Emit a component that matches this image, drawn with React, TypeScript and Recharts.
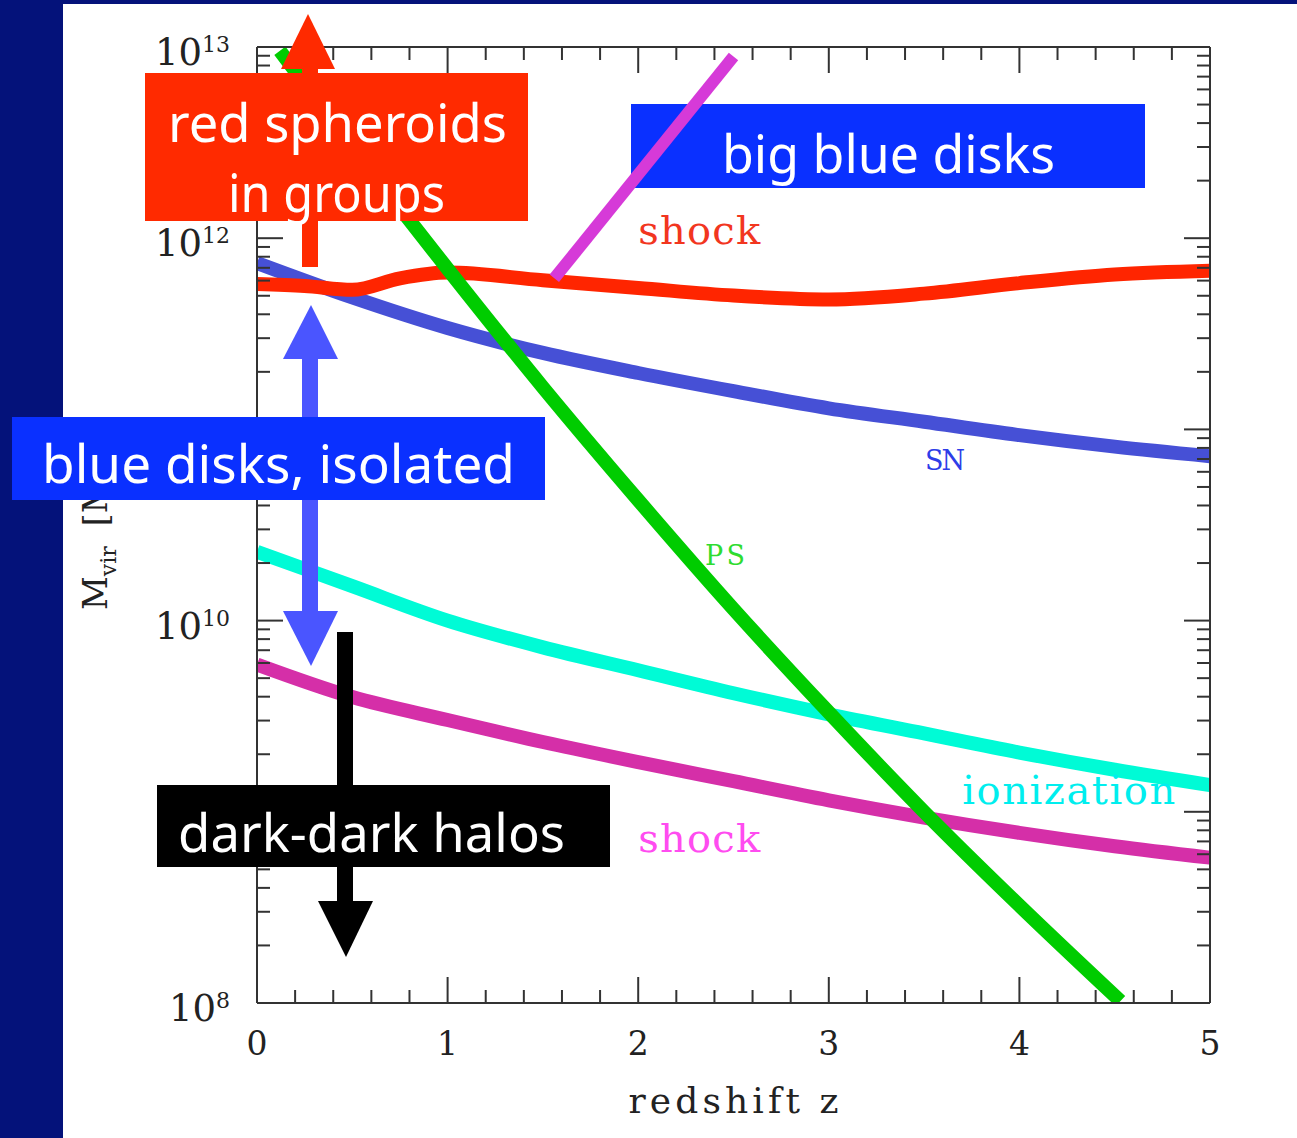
import React from 'react';
import { LineChart, Line, XAxis, YAxis, ReferenceDot } from 'recharts';

const W = 1297;
const H = 1138;

// axis ticks
const zTicks = [0, 1, 2, 3, 4, 5];
const decadeTicks = [8, 9, 10, 11, 12, 13];
// 10^9 and 10^11 sit behind the annotation boxes in the original, so only these carry labels
const decadeLabels = [8, 10, 12, 13];
const zMinor = [0.2, 0.4, 0.6, 0.8, 1.2, 1.4, 1.6, 1.8, 2.2, 2.4, 2.6, 2.8, 3.2, 3.4, 3.6, 3.8, 4.2, 4.4, 4.6, 4.8];
const logMinor = [8, 9, 10, 11, 12].flatMap((n) => [2, 3, 4, 5, 6, 7, 8, 9].map((k) => n + Math.log10(k)));

// curves: redshift z vs log10(Mvir)
const shockHotZ = [0, 0.25, 0.5, 0.75, 1, 1.5, 2, 2.5, 3, 3.5, 4, 4.5, 5];
const shockHotLogM = [11.76, 11.75, 11.73, 11.79, 11.82, 11.78, 11.74, 11.7, 11.68, 11.71, 11.765, 11.81, 11.83];

const gridZ = [0, 0.5, 1, 1.5, 2, 2.5, 3, 3.5, 4, 4.5, 5];
const snLogM = [11.87, 11.69, 11.53, 11.4, 11.295, 11.2, 11.11, 11.04, 10.97, 10.91, 10.86];
const ionLogM = [10.36, 10.18, 10.0, 9.86, 9.74, 9.62, 9.51, 9.41, 9.31, 9.22, 9.14];
const shockLowLogM = [9.77, 9.6, 9.48, 9.365, 9.26, 9.16, 9.06, 8.97, 8.89, 8.82, 8.76];

const psZ = [0.12, 0.5, 1, 1.5, 2, 2.5, 3, 3.5, 4, 4.53];
const psLogM = [12.98, 12.48, 11.84, 11.22, 10.63, 10.06, 9.52, 9.0, 8.51, 8.01];

const bigDiskZ = [1.56, 2.5];
const bigDiskLogM = [11.79, 12.95];

const rows = (xs: number[], ys: number[]) => xs.map((z, i) => ({ z, m: ys[i] }));

const plotLabels = [
  { text: 'shock', z: 2.0, m: 11.97, color: '#f2361f', size: 40, len: 122 },
  { text: 'SN', z: 3.505, m: 10.79, color: '#2d3de8', size: 27, len: 40 },
  { text: 'PS', z: 2.35, m: 10.29, color: '#2fdc2f', size: 27, len: 40 },
  { text: 'ionization', z: 3.7, m: 9.04, color: '#00eeee', size: 40, len: 213 },
  { text: 'shock', z: 2.0, m: 8.79, color: '#ff4cf0', size: 40, len: 122 },
];

const axisStyle = { stroke: '#333', strokeWidth: 2 };
const serif = "'DejaVu Serif', 'Liberation Serif', serif";
const hand = "'Noto Sans', 'Open Sans', sans-serif";

const XTick = (props: any) => {
  const { x, y, payload } = props;
  return (
    <text x={x} y={y + 50} textAnchor="middle" fill="#222" fontFamily={serif} fontSize={33}>
      {payload.value}
    </text>
  );
};

const YTick = (props: any) => {
  const { x, y, payload } = props;
  return (
    <text x={x - 25} y={y + 18} textAnchor="end" fill="#222" fontFamily={serif} fontSize={37}>
      10
      <tspan fontSize={22} dy={-13}>
        {payload.value}
      </tspan>
    </text>
  );
};

// inward tick mark: long on whole numbers (major), short otherwise
const TickMark = (props: any) => {
  const { x, y, payload, side } = props;
  const len = Number.isInteger(payload.value) ? 26 : 13;
  let x2 = x;
  let y2 = y;
  if (side === 'bottom') y2 = y - len;
  if (side === 'top') y2 = y + len;
  if (side === 'left') x2 = x + len;
  if (side === 'right') x2 = x - len;
  return <line x1={x} y1={y} x2={x2} y2={y2} stroke="#333" strokeWidth={2} />;
};

const tickAxisX = (side: 'top' | 'bottom', line: boolean) => (
  <XAxis
    key={side}
    xAxisId={side}
    orientation={side}
    type="number"
    dataKey="z"
    domain={[0, 5]}
    ticks={[...zTicks, ...zMinor]}
    interval={0}
    allowDataOverflow
    mirror
    height={30}
    axisLine={line ? axisStyle : false}
    tickLine={false}
    tickSize={0}
    tickMargin={0}
    tick={<TickMark side={side} />}
  />
);

const tickAxisY = (side: 'left' | 'right', line: boolean) => (
  <YAxis
    key={side}
    yAxisId={side}
    orientation={side}
    type="number"
    domain={[8, 13]}
    ticks={[...decadeTicks, ...logMinor]}
    interval={0}
    allowDataOverflow
    mirror
    width={30}
    axisLine={line ? axisStyle : false}
    tickLine={false}
    tickSize={0}
    tickMargin={0}
    tick={<TickMark side={side} />}
  />
);

export default function App() {
  return (
    <div style={{ position: 'absolute', left: 0, top: 0, width: W, height: H, background: '#04127a', overflow: 'hidden' }}>
      <div style={{ position: 'absolute', left: 63, top: 4, right: 0, bottom: 0, background: '#fff' }} />

      {/* this box sits under the curves */}
      <svg width={W} height={H} style={{ position: 'absolute', left: 0, top: 0 }}>
        <rect x={631} y={104} width={514} height={84} fill="#0a30ff" />
        <text x={722} y={173} fill="#fff" fontFamily={hand} fontSize={52} textLength={333} lengthAdjust="spacingAndGlyphs">
          big blue disks
        </text>
      </svg>

      <div style={{ position: 'absolute', left: 0, top: 0 }}>
        <LineChart width={W} height={H} margin={{ top: 47, right: 87, bottom: 0, left: 0 }}>
          <XAxis
            dataKey="z"
            type="number"
            domain={[0, 5]}
            ticks={zTicks}
            interval={0}
            allowDataOverflow
            height={135}
            axisLine={axisStyle}
            tickLine={false}
            tickSize={0}
            tick={<XTick />}
            label={{
              content: (p: any) => (
                <text
                  x={p.viewBox.x + p.viewBox.width / 2}
                  y={p.viewBox.y + 110}
                  textAnchor="middle"
                  fill="#222"
                  fontFamily={serif}
                  fontSize={36}
                  textLength={210}
                  lengthAdjust="spacing"
                >
                  redshift z
                </text>
              ),
            }}
          />
          {tickAxisX('bottom', false)}
          {tickAxisX('top', true)}

          <YAxis
            type="number"
            domain={[8, 13]}
            ticks={decadeLabels}
            interval={0}
            allowDataOverflow
            width={257}
            axisLine={axisStyle}
            tickLine={false}
            tickSize={0}
            tick={<YTick />}
          />
          {tickAxisY('left', false)}
          {tickAxisY('right', true)}

          <Line data={rows(gridZ, ionLogM)} dataKey="m" type="monotone" stroke="#00fbd6" strokeWidth={14} dot={false} isAnimationActive={false} />
          <Line data={rows(gridZ, shockLowLogM)} dataKey="m" type="monotone" stroke="#d52fa8" strokeWidth={14} dot={false} isAnimationActive={false} />
          <Line data={rows(gridZ, snLogM)} dataKey="m" type="monotone" stroke="#4650d6" strokeWidth={14} dot={false} isAnimationActive={false} />
          <Line data={rows(shockHotZ, shockHotLogM)} dataKey="m" type="monotone" stroke="#ff2500" strokeWidth={14} dot={false} isAnimationActive={false} />
          <Line data={rows(psZ, psLogM)} dataKey="m" type="monotone" stroke="#00cc00" strokeWidth={14} dot={false} isAnimationActive={false} />
          <Line data={rows(bigDiskZ, bigDiskLogM)} dataKey="m" type="linear" stroke="#d63ad8" strokeWidth={12} dot={false} isAnimationActive={false} />

          {plotLabels.map((l, i) => (
            <ReferenceDot
              key={i}
              x={l.z}
              y={l.m}
              r={0}
              shape={(p: any) => (
                <text
                  x={p.cx}
                  y={p.cy}
                  fill={l.color}
                  fontFamily={serif}
                  fontSize={l.size}
                  textLength={l.len}
                  lengthAdjust="spacing"
                >
                  {l.text}
                </text>
              )}
            />
          ))}
        </LineChart>
      </div>

      <svg width={W} height={H} style={{ position: 'absolute', left: 0, top: 0, pointerEvents: 'none' }}>
        {/* y axis title, mostly hidden behind the blue box */}
        <text x={107} y={610} transform="rotate(-90 107 610)" fill="#222" fontFamily={serif} fontSize={33}>
          M
          <tspan fontSize={22} dy={9}>
            vir
          </tspan>
          <tspan dy={-9} dx={20}>
            [M
          </tspan>
          <tspan fontSize={22} dy={9}>
            ⊙
          </tspan>
          <tspan dy={-9}>]</tspan>
        </text>

        {/* red arrow + box */}
        <rect x={302} y={60} width={16} height={207} fill="#ff2a00" />
        <polygon points="281,69 335,69 308,14" fill="#ff2a00" />
        <rect x={145} y={73} width={383} height={148} fill="#ff2a00" />
        <text x={168} y={142} fill="#fff" fontFamily={hand} fontSize={52} textLength={339} lengthAdjust="spacingAndGlyphs">
          red spheroids
        </text>
        <text x={228} y={212} fill="#fff" fontFamily={hand} fontSize={52} textLength={217} lengthAdjust="spacingAndGlyphs">
          in groups
        </text>

        {/* blue double arrow */}
        <rect x={302} y={355} width={16} height={260} fill="#4a55ff" />
        <polygon points="283,359 338,359 311,305" fill="#4a55ff" />
        <polygon points="283,611 338,611 311,666" fill="#4a55ff" />

        {/* blue disks, isolated */}
        <rect x={12} y={417} width={533} height={83} fill="#0a30ff" />
        <text x={42} y={483} fill="#fff" fontFamily={hand} fontSize={52} textLength={473} lengthAdjust="spacingAndGlyphs">
          blue disks, isolated
        </text>

        {/* black arrow + box */}
        <rect x={337} y={632} width={16} height={272} fill="#000" />
        <polygon points="318,901 373,901 346,957" fill="#000" />
        <rect x={157} y={785} width={453} height={82} fill="#000" />
        <text x={178} y={852} fill="#fff" fontFamily={hand} fontSize={52} textLength={387} lengthAdjust="spacingAndGlyphs">
          dark-dark halos
        </text>
      </svg>
    </div>
  );
}
